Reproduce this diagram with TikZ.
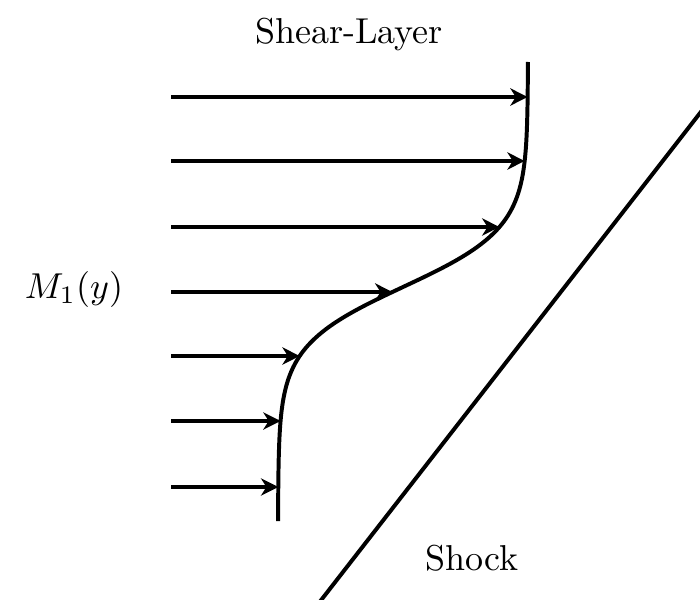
\documentclass[tikz,border=0pt]{standalone}
\usetikzlibrary{arrows.meta}
\begin{document}
\begin{tikzpicture}[x=0.2778pt,y=-0.2778pt,
  flow/.style={line width=1.1pt,-{Stealth[length=4.8pt,width=4.8pt,inset=1.5pt]}},
  profile/.style={line width=1.1pt},
  shockline/.style={line width=1.1pt},
  lbl/.style={anchor=base,inner sep=0pt}]
\useasboundingbox (0,0) rectangle (700,599);
\draw[profile] plot[domain=62:521,samples=120,smooth] ({403-125*tanh((\x-287)/58.6)},\x);
\foreach \i/\yy in {1/97,2/161,3/227,4/292,5/356,6/421,7/487}{
  \pgfmathsetmacro\xe{403-125*tanh((\yy-287)/58.6)}
  \coordinate (s\i) at (171,\yy);
  \coordinate (e\i) at (\xe,\yy);
  \draw[flow] (s\i) -- (e\i);
}
\coordinate (sha) at (318,604.1);
\coordinate (shb) at (704,107.9);
\draw[shockline] (sha) -- (shb);
\node[lbl] (shear) at (349,44) {Shear-Layer};
\node[lbl] (mach) at (74,298) {$M_1(y)$};
\node[lbl] (shock) at (471.5,570) {Shock};
\end{tikzpicture}
\end{document}
